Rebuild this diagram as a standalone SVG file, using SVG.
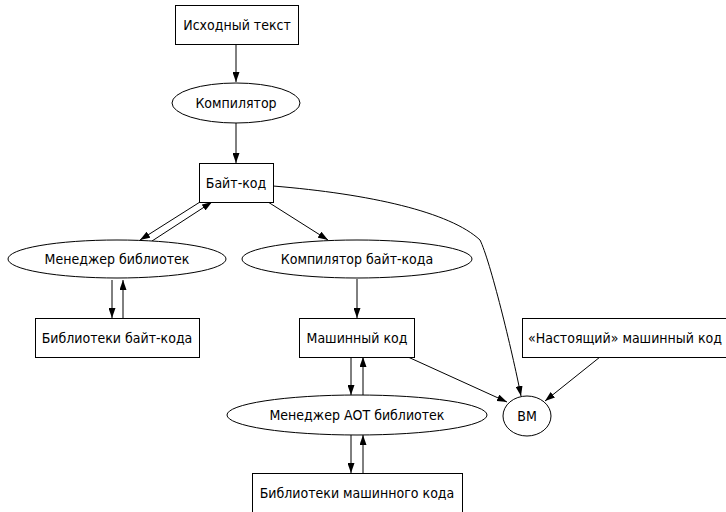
<svg xmlns="http://www.w3.org/2000/svg" width="726" height="512" viewBox="0 0 726 512">
<defs>
<marker id="ah" viewBox="0 0 10 7" refX="10" refY="3.5" markerWidth="10" markerHeight="7" markerUnits="userSpaceOnUse" orient="auto">
<path d="M0,0 L10,3.5 L0,7 Z" fill="#000"/>
</marker>
<style>
.n rect,.n ellipse{fill:#fff;stroke:#000;stroke-width:1}
.n text{font-family:"DejaVu Sans Condensed","DejaVu Sans",sans-serif;font-stretch:condensed;font-size:14px;text-anchor:middle;fill:#000}
.e path{fill:none;stroke:#000;stroke-width:1;marker-end:url(#ah)}
</style>
</defs>
<rect width="726" height="512" fill="#fff"/>
<g id="edges" class="e">
<path d="M236,45 L236,82"/>
<path d="M236,123 L236,163"/>
<path d="M200,202 L140,240"/>
<path d="M152,241 L212,202"/>
<path d="M112,280 L112,318"/>
<path d="M123,318 L123,280"/>
<path d="M268,202 L328,240"/>
<path d="M357,279 L357,318"/>
<path d="M273,186 C370,194 450,212 480,240 C490,260 512,350 521,396"/>
<path d="M408,357 L507,402"/>
<path d="M600,357 L545,401"/>
<path d="M351,357 L351,395"/>
<path d="M363,395 L363,357"/>
<path d="M351,435 L351,473"/>
<path d="M363,473 L363,435"/>
</g>
<g id="n_src" class="n"><rect x="175.5" y="5.5" width="123" height="39"/><text x="237" y="30">Исходный текст</text></g>
<g id="n_comp" class="n"><ellipse cx="236" cy="103" rx="64" ry="20"/><text x="236" y="108">Компилятор</text></g>
<g id="n_bc" class="n"><rect x="199.5" y="163.5" width="74" height="39"/><text x="236" y="188">Байт-код</text></g>
<g id="n_libmgr" class="n"><ellipse cx="117" cy="259" rx="109" ry="19"/><text x="117" y="264">Менеджер библиотек</text></g>
<g id="n_bclib" class="n"><rect x="35.5" y="318.5" width="164" height="39"/><text x="117" y="343">Библиотеки байт-кода</text></g>
<g id="n_bccomp" class="n"><ellipse cx="357" cy="259" rx="115" ry="19"/><text x="357" y="264">Компилятор байт-кода</text></g>
<g id="n_mc" class="n"><rect x="299.5" y="318.5" width="115" height="39"/><text x="357" y="343">Машинный код</text></g>
<g id="n_aot" class="n"><ellipse cx="357" cy="415" rx="130" ry="20"/><text x="357" y="420">Менеджер АОТ библиотек</text></g>
<g id="n_mclib" class="n"><rect x="252.5" y="473.5" width="210" height="45"/><text x="357" y="498">Библиотеки машинного кода</text></g>
<g id="n_vm" class="n"><ellipse cx="527" cy="416" rx="24" ry="20"/><text x="527" y="421">ВМ</text></g>
<g id="n_real" class="n"><rect x="522.5" y="318.5" width="210" height="39"/><text x="625" y="343">«Настоящий» машинный код</text></g>
</svg>
